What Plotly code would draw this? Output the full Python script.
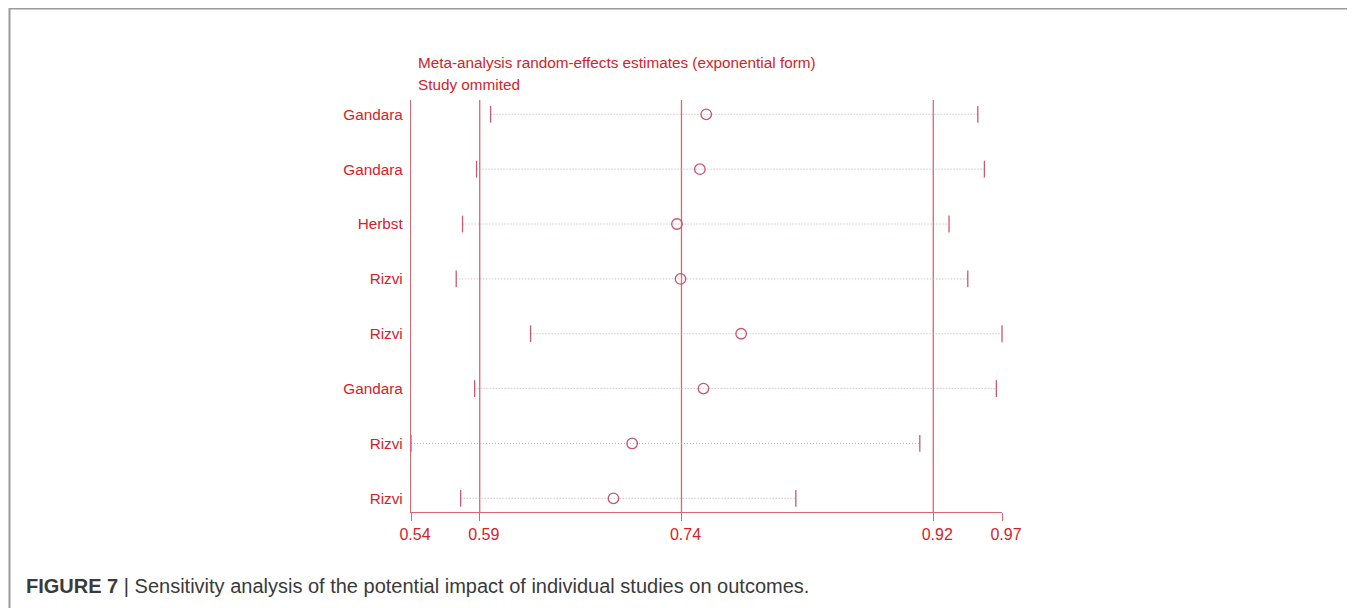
import plotly.graph_objects as go

# ---- data ----
studies = ["Gandara", "Gandara", "Herbst", "Rizvi", "Rizvi", "Gandara", "Rizvi", "Rizvi"]
estimate = [0.7548, 0.7502, 0.7335, 0.7361, 0.7802, 0.7528, 0.7009, 0.6873]
lower    = [0.5979, 0.5877, 0.5775, 0.5729, 0.6270, 0.5863, 0.5400, 0.5761]
upper    = [0.9524, 0.9572, 0.9315, 0.9451, 0.9700, 0.9659, 0.9102, 0.8200]
# overall estimate and CI (reference lines)
overall_lines = [0.59, 0.7368, 0.92]
axis_min, axis_max = 0.54, 0.97
tick_vals = [0.54, 0.59, 0.7368, 0.92, 0.97]
tick_text = ["0.54", "0.59", "0.74", "0.92", "0.97"]
title_lines = ["Meta-analysis random-effects estimates (exponential form)", "Study ommited"]
caption_bold = "FIGURE 7"
caption_rest = " | Sensitivity analysis of the potential impact of individual studies on outcomes."

# ---- styling ----
OFF = 8  # page body margin in the browser
W, H = 1355 - OFF, 608 - OFF
plot_left, plot_right, plot_top, plot_bottom = 411 - OFF, 1002 - OFF, 100 - OFF, 512 - OFF
L, R, T, B = plot_left, W - plot_right, plot_top, H - plot_bottom
TEXT_RED = "#d2232a"
LINE_RED = "#da6770"
CAP_RED = "#c85a70"
DOT_COL = "#c9a6ad"
CIRC_COL = "#c4566e"
FONT = "Liberation Sans, Arial, sans-serif"

rows = list(range(len(studies)))
pw, ph = W - L - R, H - T - B


def px2x(px):  # reference page pixel -> paper coordinate
    return (px - OFF - L) / pw


def px2y(py):
    return (H - B - (py - OFF)) / ph


fig = go.Figure()

# dotted CI lines
for i in rows:
    fig.add_trace(go.Scatter(
        x=[lower[i], upper[i]], y=[i, i], mode="lines",
        line=dict(color=DOT_COL, width=1, dash="1px,2px"),
        hoverinfo="skip", showlegend=False, cliponaxis=False))

# CI end caps
fig.add_trace(go.Scatter(
    x=lower + upper, y=rows + rows, mode="markers",
    marker=dict(symbol="line-ns", size=12, line=dict(color=CAP_RED, width=1.3)),
    hoverinfo="skip", showlegend=False, cliponaxis=False))

# estimates
fig.add_trace(go.Scatter(
    x=estimate, y=rows, mode="markers",
    marker=dict(symbol="circle-open", size=10.5, color=CIRC_COL, line=dict(color=CIRC_COL, width=1.3)),
    showlegend=False, cliponaxis=False))

# reference vertical lines
for v in overall_lines:
    fig.add_shape(type="line", xref="x", yref="y domain", x0=v, x1=v, y0=0, y1=1,
                  line=dict(color=LINE_RED, width=1.3), layer="below")

# title lines
fig.add_annotation(text=title_lines[0], xref="paper", yref="paper", x=px2x(416), y=px2y(63),
                   xanchor="left", yanchor="middle", showarrow=False,
                   font=dict(family=FONT, size=15.3, color=TEXT_RED))
fig.add_annotation(text=title_lines[1], xref="paper", yref="paper", x=px2x(416), y=px2y(84),
                   xanchor="left", yanchor="middle", showarrow=False,
                   font=dict(family=FONT, size=15.3, color=TEXT_RED))

# caption
fig.add_annotation(text="<b>" + caption_bold + "</b>" + caption_rest, xref="paper", yref="paper",
                   x=px2x(24), y=px2y(586), xanchor="left", yanchor="middle", showarrow=False,
                   font=dict(family=FONT, size=20, color="#3a3a3a"))

# outer frame (left, top, right)
fig.add_shape(type="path", xref="paper", yref="paper",
              path=(f"M {px2x(9.5)} {px2y(640)} L {px2x(9.5)} {px2y(8.5)} "
                    f"L {px2x(1353.5)} {px2y(8.5)} L {px2x(1353.5)} {px2y(640)}"),
              line=dict(color="#9a9a9a", width=2))

fig.update_layout(
    width=W, height=H,
    margin=dict(l=L, r=R, t=T, b=B, autoexpand=False),
    paper_bgcolor="white", plot_bgcolor="white",
    showlegend=False,
    xaxis=dict(range=[axis_min, axis_max], tickvals=tick_vals, ticktext=tick_text,
               showgrid=False, zeroline=False, showline=True, linecolor=LINE_RED, linewidth=1.3,
               ticks="outside", ticklen=8, tickcolor=LINE_RED, tickwidth=1.3, ticklabelshift=4,
               tickfont=dict(family=FONT, size=16, color=TEXT_RED), fixedrange=True),
    yaxis=dict(range=[7.2494, -0.2607], tickvals=rows, ticktext=studies,
               showgrid=False, zeroline=False, showline=True, linecolor=LINE_RED, linewidth=1.3,
               ticks="", ticklabelstandoff=4,
               tickfont=dict(family=FONT, size=15.3, color=TEXT_RED), fixedrange=True),
)

fig.write_html("out.html")
